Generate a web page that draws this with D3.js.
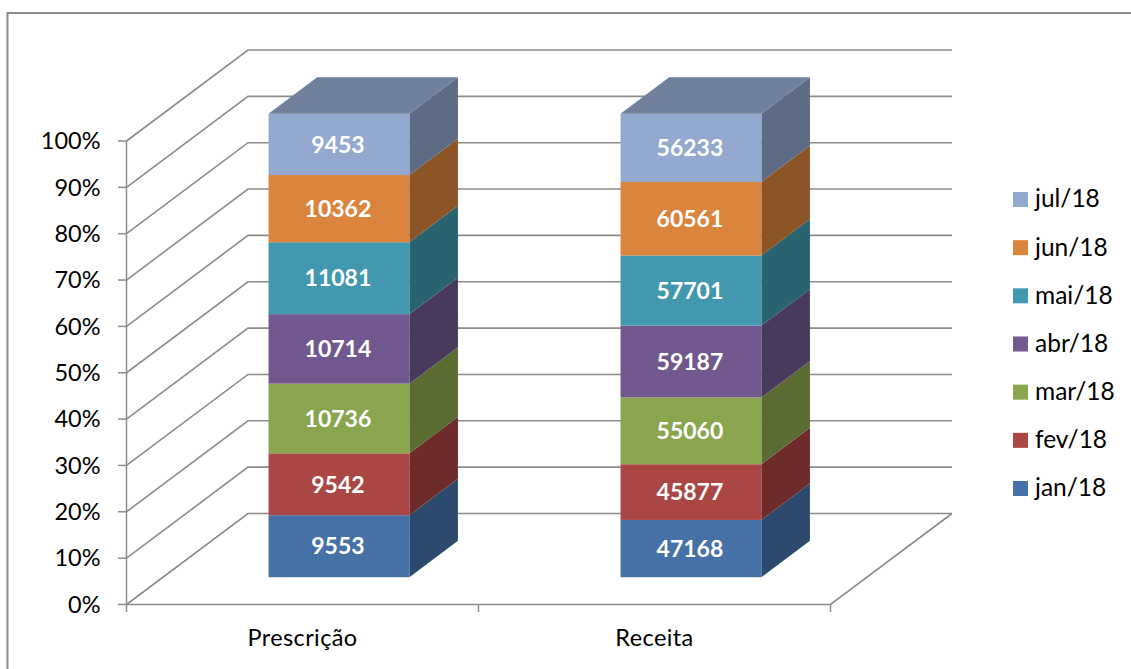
<!DOCTYPE html>
<html><head><meta charset="utf-8">
<script src="https://cdnjs.cloudflare.com/ajax/libs/d3/7.8.5/d3.min.js"></script>
<style>html,body{margin:0;padding:0;background:#fff}svg{display:block}</style>
</head><body><svg id="c" width="1131" height="669"></svg>
<script>
const categories = ["Prescrição", "Receita"];
const seriesNames = ["jan/18","fev/18","mar/18","abr/18","mai/18","jun/18","jul/18"];
const prescricao = [9553, 9542, 10736, 10714, 11081, 10362, 9453];
const receita = [47168, 45877, 55060, 59187, 57701, 60561, 56233];
const frontColors = ["#4571a7","#aa4644","#89a54e","#71588f","#4198af","#db843d","#93a9cf"];
const sideColors = ["#2c4a6e","#6d2c2b","#5a6c32","#49395d","#28636f","#8c5527","#5e6b84"];
const topColor = "#6f7f9c";
const yTicks = [0,.1,.2,.3,.4,.5,.6,.7,.8,.9,1];
const values = [prescricao, receita];

const svg = d3.select("#c");
const FONT = "Lato, Carlito, sans-serif", GRID = "#8c8c8c";

const x = d3.scaleBand().domain(categories).range([126.5, 830.5]);
const y = d3.scaleLinear().domain([0,1]).range([604.5, 141]);
const dx = d3.scaleLinear().domain([0,1]).range([0,121.5]);
const dy = d3.scaleLinear().domain([0,1]).range([0,-91]);
const px = (xv,d)=>xv+dx(d), py=(v,d)=>y(v)+dy(d);
const line = d3.line();

svg.append("path").attr("d","M7.5,669V13H1131").attr("fill","none").attr("stroke",GRID).attr("stroke-width",2);

// walls
const xL = x.range()[0], xR = x.range()[1];
yTicks.forEach(t=>{
  svg.append("path").attr("fill","none").attr("stroke",GRID).attr("stroke-width",1.6)
    .attr("d",line([[px(xL,0),py(t,0)],[px(xL,1),py(t,1)],[px(xR,1),py(t,1)]]));
  svg.append("line").attr("x1",118).attr("x2",xL).attr("y1",y(t)).attr("y2",y(t)).attr("stroke",GRID).attr("stroke-width",1.5);
  svg.append("text").attr("x",100.5).attr("y",y(t)).attr("dy","0.35em").attr("text-anchor","end")
    .attr("font-family",FONT).attr("font-size",23.5).attr("fill","#000").text(d3.format(".0%")(t));
});
svg.append("line").attr("x1",xL).attr("x2",xL).attr("y1",y(0)).attr("y2",y(1)).attr("stroke",GRID).attr("stroke-width",1.5);
svg.append("path").attr("fill","none").attr("stroke",GRID).attr("stroke-width",1.7)
  .attr("d",line([[xL,y(0)],[xR,y(0)],[px(xR,1),py(0,1)]]));
[xL, x.bandwidth()+xL, xR].forEach(v=>svg.append("line").attr("x1",v).attr("x2",v).attr("y1",604).attr("y2",612).attr("stroke",GRID).attr("stroke-width",1.5));

// stacked bars
const d0=.3, d1=.7, widthShare=.4;
categories.forEach((c,i)=>{
  const total = d3.sum(values[i]);
  const x0 = x(c)+x.bandwidth()*(1-widthShare)/2, x1 = x0+x.bandwidth()*widthShare;
  let cum=0;
  const g = svg.append("g");
  values[i].forEach((v,k)=>{
    const a=cum/total, b=(cum+v)/total; cum+=v;
    g.append("polygon").attr("fill",sideColors[k]).attr("points",
      [[px(x1,d0),py(a,d0)],[px(x1,d1),py(a,d1)],[px(x1,d1),py(b,d1)],[px(x1,d0),py(b,d0)]].join(" "));
    g.append("rect").attr("x",px(x0,d0)).attr("width",x1-x0).attr("y",py(b,d0)).attr("height",py(a,d0)-py(b,d0)).attr("fill",frontColors[k]);
    g.append("text").attr("x",px((x0+x1)/2,d0)-1).attr("y",py((a+b)/2,d0)).attr("dy","0.36em").attr("text-anchor","middle")
      .attr("font-family",FONT).attr("font-weight",700).attr("font-size",23).attr("fill","#fff").text(v);
  });
  g.append("polygon").attr("fill",topColor).attr("points",
    [[px(x0,d0),py(1,d0)],[px(x1,d0),py(1,d0)],[px(x1,d1),py(1,d1)],[px(x0,d1),py(1,d1)]].join(" "));
  svg.append("text").attr("x",x(c)+x.bandwidth()/2).attr("y",638).attr("dy","0.36em").attr("text-anchor","middle")
    .attr("font-family",FONT).attr("font-size",23.5).attr("letter-spacing",0.4).attr("fill","#000").text(c);
});

// legend
const ly = d3.scalePoint().domain(seriesNames.slice().reverse()).range([199.5,488.5]);
seriesNames.forEach((s,k)=>{
  svg.append("rect").attr("x",1013).attr("y",ly(s)-7.5).attr("width",15).attr("height",15).attr("fill",frontColors[k]);
  svg.append("text").attr("x",1035).attr("y",ly(s)).attr("dy","0.32em").attr("font-family",FONT).attr("font-size",24.5).attr("fill","#000").text(s);
});
</script></body></html>
